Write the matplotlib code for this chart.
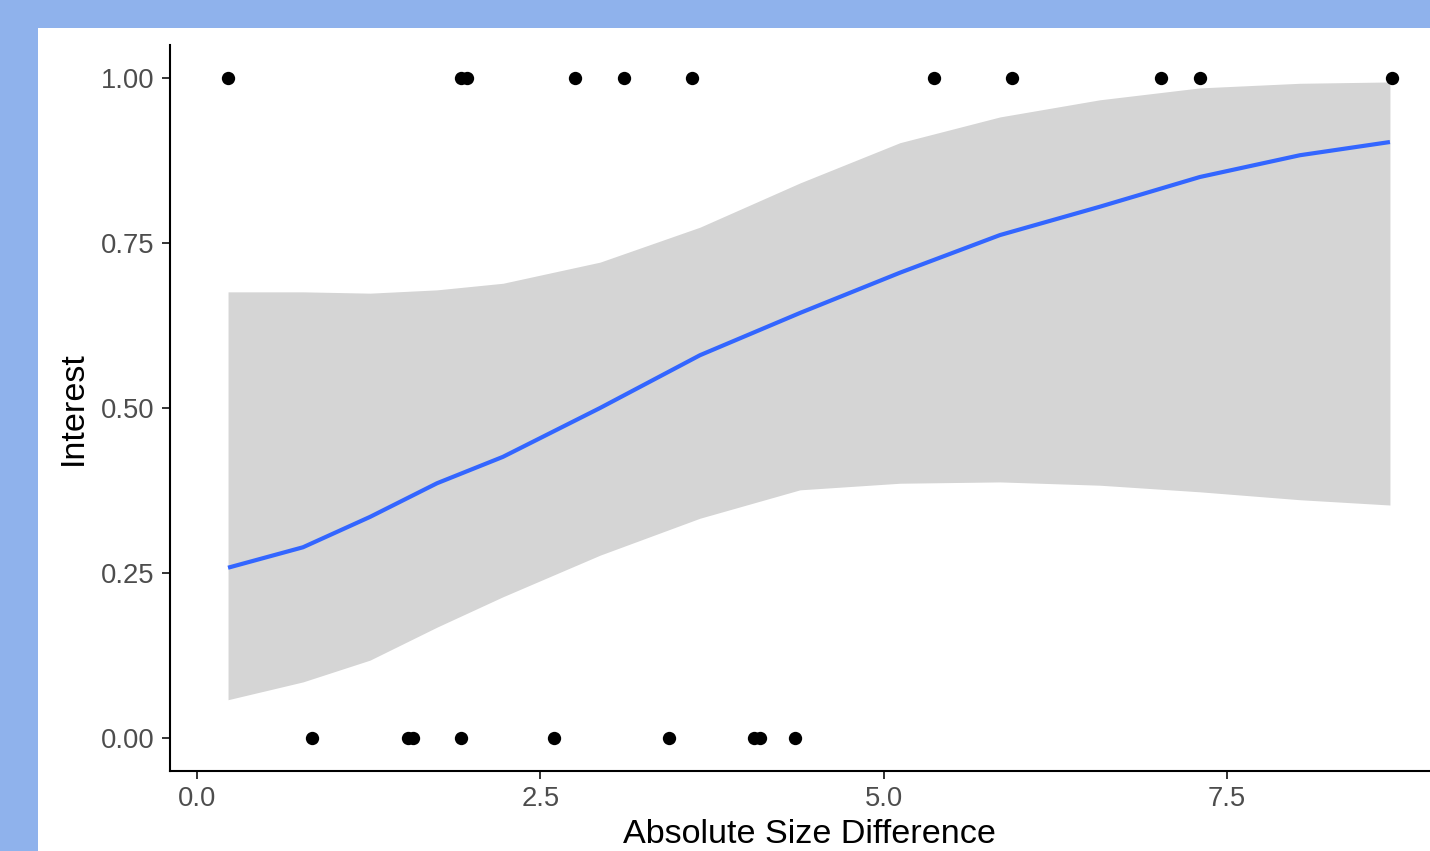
import matplotlib
matplotlib.use("Agg")
import matplotlib.pyplot as plt

plt.rcParams['font.family'] = ['Liberation Sans', 'DejaVu Sans']

# Observed data points (absolute size difference, interest 0/1)
x_interest = [0.226, 1.922, 1.966, 2.752, 3.109, 3.604, 5.367, 5.935, 7.020, 7.303, 8.702]
y_interest = [1] * len(x_interest)
x_no_interest = [0.837, 1.536, 1.573, 1.922, 2.600, 3.437, 4.056, 4.100, 4.354]
y_no_interest = [0] * len(x_no_interest)

# Fitted logistic curve and its confidence band
fit_x = [0.226, 0.772, 1.260, 1.748, 2.228, 2.935, 3.663, 4.391, 5.119, 5.847, 6.575, 7.303, 8.032, 8.687]
fit_y = [0.258, 0.289, 0.335, 0.386, 0.426, 0.500, 0.580, 0.644, 0.705, 0.762, 0.805, 0.850, 0.883, 0.903]
fit_hi = [0.676, 0.676, 0.674, 0.679, 0.689, 0.721, 0.774, 0.841, 0.902, 0.941, 0.967, 0.985, 0.992, 0.994]
fit_lo = [0.058, 0.085, 0.118, 0.168, 0.214, 0.277, 0.333, 0.376, 0.386, 0.388, 0.383, 0.373, 0.361, 0.353]

x_ticks = [0.0, 2.5, 5.0, 7.5]
x_ticklabels = ["0.0", "2.5", "5.0", "7.5"]
y_ticks = [0.00, 0.25, 0.50, 0.75, 1.00]
y_ticklabels = ["0.00", "0.25", "0.50", "0.75", "1.00"]

W, H = 1430, 851
fig = plt.figure(figsize=(W / 100, H / 100), dpi=100)
fig.patch.set_facecolor('#8FB2EC')

# white panel behind the plot
bg = fig.add_axes([38 / W, 0, 1 - 38 / W, (H - 28) / H], zorder=-5)
bg.set_facecolor('white')
bg.set_xticks([])
bg.set_yticks([])
for s in bg.spines.values():
    s.set_visible(False)

left = 170 / W
bottom = (H - 771) / H
top = (H - 45) / H
width = (1449.4 - 170) / W
ax = fig.add_axes([left, bottom, width, top - bottom], zorder=1)
ax.set_facecolor('none')

ax.fill_between(fit_x, fit_lo, fit_hi, color='#D5D5D5', linewidth=0, zorder=1)
ax.plot(fit_x, fit_y, color='#3366FF', linewidth=3.0, zorder=2,
        solid_capstyle='butt')
ax.scatter(x_interest, y_interest, s=92, color='black', zorder=3, linewidths=0)
ax.scatter(x_no_interest, y_no_interest, s=92, color='black', zorder=3, linewidths=0)

ax.set_xlim(-0.1966, 9.12)
ax.set_ylim(-0.05, 1.05)
ax.set_xticks(x_ticks)
ax.set_xticklabels(x_ticklabels)
ax.set_yticks(y_ticks)
ax.set_yticklabels(y_ticklabels)

for s in ['top', 'right']:
    ax.spines[s].set_visible(False)
for s in ['left', 'bottom']:
    ax.spines[s].set_color('black')
    ax.spines[s].set_linewidth(1.5)

ax.tick_params(axis='both', direction='out', length=6, width=1.4,
               color='#333333', labelcolor='#4D4D4D', labelsize=19.7, pad=5)

ax.set_xlabel("Absolute Size Difference", fontsize=24.6, color='black', labelpad=5)
ax.set_ylabel("Interest", fontsize=24.6, color='black', labelpad=9)

fig.savefig("out.png", dpi=100, facecolor=fig.get_facecolor())
